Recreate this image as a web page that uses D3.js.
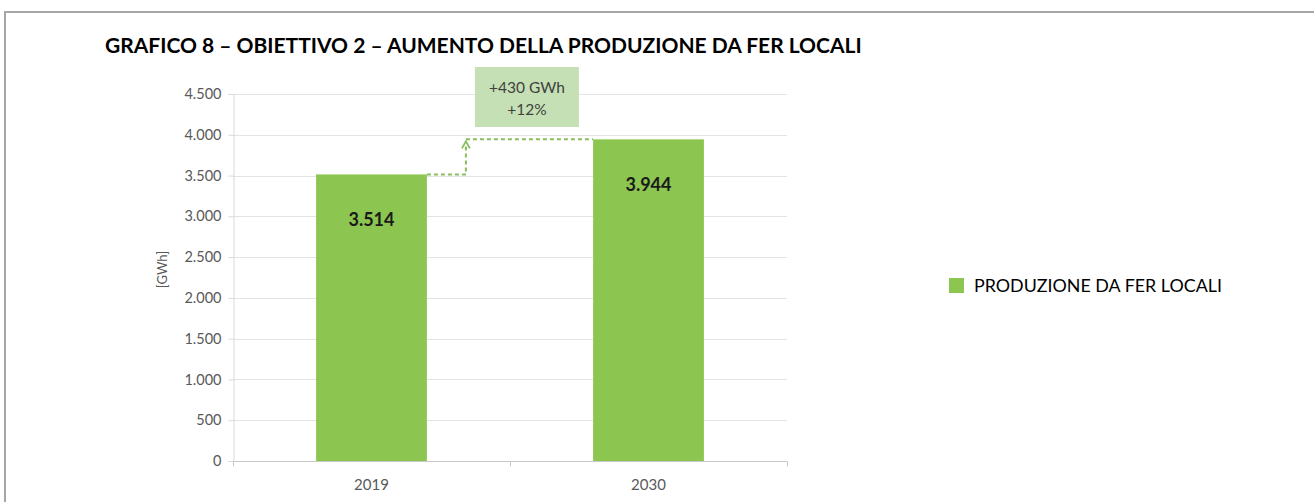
<!DOCTYPE html>
<html>
<head>
<meta charset="utf-8">
<script src="https://cdn.jsdelivr.net/npm/d3@7"></script>
<style>
  html, body { margin: 0; padding: 0; background: #fff; }
  svg { display: block; }
</style>
</head>
<body>
<svg id="chart" width="1314" height="502"></svg>
<script>
// Chart data
const categories = ["2019", "2030"];
const production = [3514, 3944];
const yTicks = [0, 500, 1000, 1500, 2000, 2500, 3000, 3500, 4000, 4500];
const titleText = "GRAFICO 8 – OBIETTIVO 2 – AUMENTO DELLA PRODUZIONE DA FER LOCALI";
const seriesName = "PRODUZIONE DA FER LOCALI";
const yAxisTitle = "[GWh]";
const deltaLines = ["+430 GWh", "+12%"];

const FONT = "Lato, 'Open Sans', sans-serif";
const BAR = "#8cc54f";

const svg = d3.select("#chart");
const W = 1314, H = 502;

// Scale a text's font size so that it spans the given width
function fitWidth(sel, width, base) {
  sel.attr("font-size", base);
  const len = sel.node().getComputedTextLength();
  sel.attr("font-size", base * width / len);
}

// Outer frame
svg.append("rect")
  .attr("x", 5).attr("y", 12)
  .attr("width", W + 10).attr("height", H + 10)
  .attr("fill", "#fff").attr("stroke", "#a6a6a6").attr("stroke-width", 2);

// Title
const title = svg.append("text")
  .attr("x", 105).attr("y", 53)
  .attr("font-family", FONT).attr("font-weight", 700)
  .attr("fill", "#000")
  .text(titleText);
fitWidth(title, 757, 16);

// Plot area
const plot = { left: 233, right: 787, top: 94, bottom: 461 };

const x = d3.scaleBand()
  .domain(categories)
  .range([plot.left, plot.right])
  .paddingInner(0.6).paddingOuter(0.3);

const y = d3.scaleLinear().domain([0, 4500]).range([plot.bottom, plot.top]);

const it = d3.formatLocale({ decimal: ",", thousands: ".", grouping: [3], currency: ["", "€"] });
const fmt = it.format(",d");

// Horizontal gridlines
svg.append("g")
  .selectAll("line")
  .data(yTicks.filter(d => d > 0))
  .join("line")
  .attr("x1", plot.left).attr("x2", plot.right)
  .attr("y1", d => Math.round(y(d)) + 0.5).attr("y2", d => Math.round(y(d)) + 0.5)
  .attr("stroke", "#e3e3e3").attr("stroke-width", 1);

// Y axis
const yAxis = svg.append("g")
  .attr("transform", `translate(${plot.left + 0.5},0)`)
  .call(d3.axisLeft(y).tickValues(yTicks).tickFormat(fmt).tickSize(5).tickPadding(7));
yAxis.select(".domain").attr("stroke", "#d9d9d9");
yAxis.selectAll(".tick line").attr("stroke", "#d9d9d9");
yAxis.selectAll(".tick text")
  .attr("font-family", FONT).attr("font-size", 14.5).attr("fill", "#595959");

// X axis with boundary ticks between categories
const xAxisG = svg.append("g").attr("transform", `translate(0,${Math.round(plot.bottom) + 0.5})`);
xAxisG.append("line")
  .attr("x1", plot.left).attr("x2", plot.right)
  .attr("stroke", "#c8c8c8");
const boundaries = [plot.left, plot.left + (plot.right - plot.left) / 2, plot.right];
xAxisG.selectAll("line.tk")
  .data(boundaries)
  .join("line").attr("class", "tk")
  .attr("x1", d => d + 0.5).attr("x2", d => d + 0.5)
  .attr("y1", 0).attr("y2", 5)
  .attr("stroke", "#c8c8c8");
xAxisG.selectAll("text")
  .data(categories)
  .join("text")
  .attr("x", d => x(d) + x.bandwidth() / 2)
  .attr("y", 28)
  .attr("text-anchor", "middle")
  .attr("font-family", FONT).attr("font-size", 15).attr("fill", "#595959")
  .text(d => d);

// Y axis title
svg.append("text")
  .attr("transform", `translate(167,${(plot.top + plot.bottom) / 2 - 8}) rotate(-90)`)
  .attr("text-anchor", "middle")
  .attr("font-family", FONT).attr("font-size", 13).attr("fill", "#595959")
  .text(yAxisTitle);

// Bars
const rows = categories.map((c, i) => ({ cat: c, value: production[i] }));
svg.append("g")
  .selectAll("rect")
  .data(rows)
  .join("rect")
  .attr("x", d => x(d.cat))
  .attr("y", d => y(d.value))
  .attr("width", x.bandwidth())
  .attr("height", d => y(0) - y(d.value))
  .attr("fill", BAR);

// Value labels inside the bars
svg.append("g")
  .selectAll("text")
  .data(rows)
  .join("text")
  .attr("x", d => x(d.cat) + x.bandwidth() / 2)
  .attr("y", d => y(d.value) + 52)
  .attr("text-anchor", "middle")
  .attr("font-family", FONT).attr("font-weight", 700).attr("font-size", 18)
  .attr("fill", "#1a1a1a")
  .text(d => fmt(d.value));

// Step connector showing the increase between the two bars
const x0 = x(categories[0]) + x.bandwidth();
const x1 = x(categories[1]);
const xm = x0 + 39;
const yA = y(production[0]);
const yB = y(production[1]);
const DASH = "#8abd5e";

svg.append("path")
  .attr("d", `M${x0},${yA}H${xm}V${yB + 6}`)
  .attr("fill", "none").attr("stroke", DASH).attr("stroke-width", 2)
  .attr("stroke-dasharray", "4,3");
svg.append("path")
  .attr("d", `M${xm},${yB}H${x1}`)
  .attr("fill", "none").attr("stroke", DASH).attr("stroke-width", 2)
  .attr("stroke-dasharray", "4,3");
// arrow head
svg.append("path")
  .attr("d", `M${xm - 4},${yB + 9}L${xm},${yB + 2}L${xm + 4},${yB + 9}`)
  .attr("fill", "none").attr("stroke", DASH).attr("stroke-width", 1.8);

// Delta annotation box
const boxW = 104, boxH = 60;
const boxX = xm + 9, boxY = y(4500) - 27;
svg.append("rect")
  .attr("x", boxX).attr("y", boxY)
  .attr("width", boxW).attr("height", boxH)
  .attr("fill", "#c5e0b4");
svg.append("g")
  .selectAll("text")
  .data(deltaLines)
  .join("text")
  .attr("x", boxX + boxW / 2)
  .attr("y", (d, i) => boxY + 26 + i * 22)
  .attr("text-anchor", "middle")
  .attr("font-family", FONT).attr("font-size", 15.5).attr("fill", "#404040")
  .text(d => d);

// Legend
const lg = svg.append("g").attr("transform", "translate(949,278)");
lg.append("rect").attr("width", 15).attr("height", 15).attr("fill", BAR);
const lgText = lg.append("text")
  .attr("x", 25).attr("y", 14)
  .attr("font-family", FONT).attr("fill", "#000")
  .text(seriesName);
fitWidth(lgText, 248, 15);
</script>
</body>
</html>
